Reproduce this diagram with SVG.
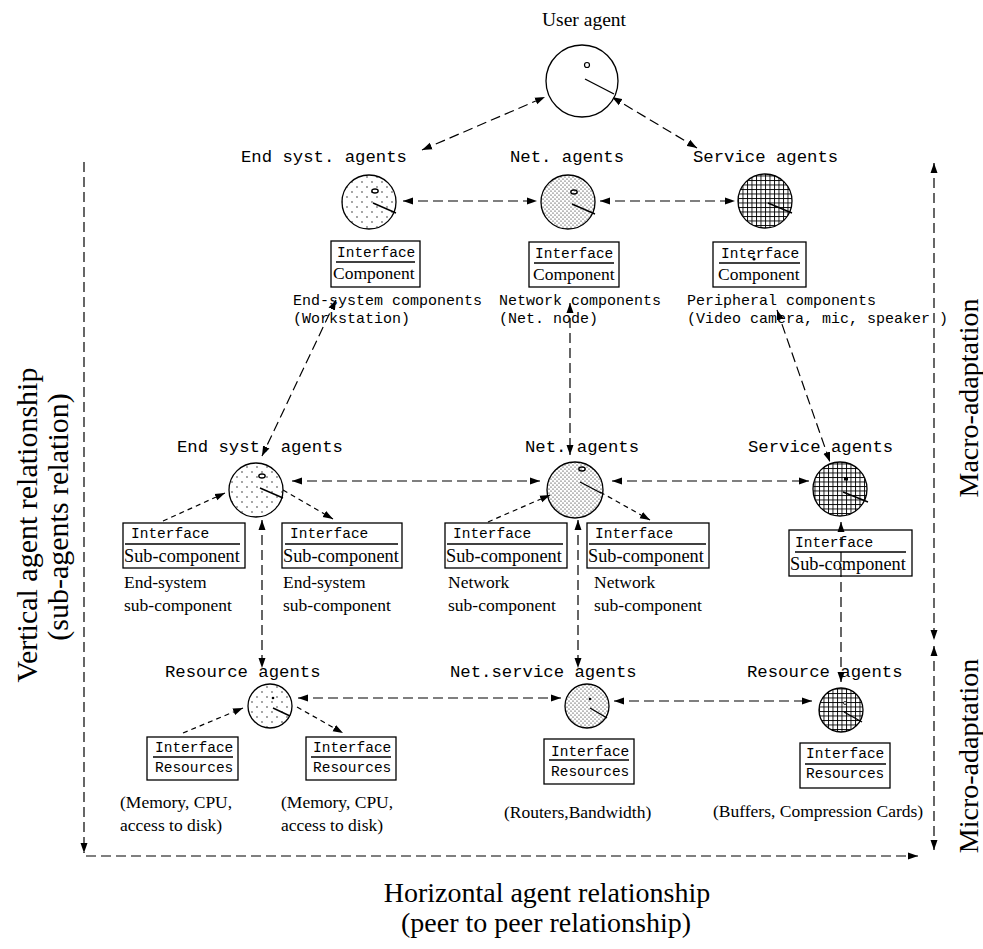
<svg xmlns="http://www.w3.org/2000/svg" width="983" height="949" viewBox="0 0 983 949">
<style>
.mono{font-family:'Liberation Mono','Courier New',monospace;fill:#000}
.ag{font-size:17.3px}
.if{font-size:14.5px}
.cd{font-size:15px}
.serif{font-family:'Liberation Serif','Times New Roman',serif;fill:#000}
.lb{font-size:17.5px}
.big{font-size:28px}
.circ{stroke:#000;stroke-width:1.3}
.box{fill:#fff;stroke:#000;stroke-width:1.3}
.ul{stroke:#000;stroke-width:1.5}
.rad{stroke:#000;stroke-width:1.4;fill:none}
.ld{fill:none;stroke:#000;stroke-width:1.2;stroke-dasharray:10,5;marker-start:url(#ah);marker-end:url(#ah)}
.ld1{fill:none;stroke:#000;stroke-width:1.2;stroke-dasharray:10,5;marker-end:url(#ah)}
.sd{fill:none;stroke:#000;stroke-width:1.2;stroke-dasharray:5,4;marker-end:url(#ah)}
</style>
<defs>
<marker id="ah" markerUnits="userSpaceOnUse" markerWidth="11" markerHeight="8" refX="10" refY="4" orient="auto-start-reverse">
<path d="M0,0.5 L10,4 L0,7.5 z" fill="#000"/>
</marker>
<pattern id="sparse" width="10" height="10" patternUnits="userSpaceOnUse"><circle cx="2" cy="2" r="0.65" fill="#000"/><circle cx="7" cy="7" r="0.65" fill="#000"/></pattern>
<pattern id="dense" width="4" height="4" patternUnits="userSpaceOnUse"><circle cx="1" cy="1" r="0.6" fill="#000"/><circle cx="3" cy="3" r="0.6" fill="#000"/></pattern>
<pattern id="grid" width="4.5" height="4.5" patternUnits="userSpaceOnUse"><path d="M0,0.5H4.5M0.5,0V4.5" stroke="#000" stroke-width="0.9"/></pattern>
</defs>
<rect width="983" height="949" fill="#fff"/>

<!-- Connectors -->
<g id="connectors">
<line class="ld" x1="422" y1="150" x2="545" y2="97"/>
<line class="ld" x1="697" y1="148" x2="612" y2="97"/>
<line class="ld" x1="403" y1="201" x2="537" y2="201"/>
<line class="ld" x1="600" y1="201" x2="735" y2="201"/>
<line class="ld" x1="336" y1="300" x2="262" y2="456"/>
<line class="ld" x1="570" y1="303" x2="570" y2="455"/>
<line class="ld" x1="777" y1="310" x2="830" y2="462"/>
<line class="ld" x1="292" y1="481" x2="540" y2="481"/>
<line class="ld" x1="612" y1="481" x2="809" y2="481"/>
<line class="sd" x1="163" y1="521" x2="225" y2="493"/>
<line class="sd" x1="283" y1="490" x2="333" y2="519"/>
<line class="sd" x1="488" y1="522" x2="550" y2="495"/>
<line class="sd" x1="600" y1="492" x2="650" y2="520"/>
<line class="ld" x1="262" y1="520" x2="262" y2="668"/>
<line class="ld" x1="578" y1="520" x2="578" y2="668"/>
<line class="ld" x1="298" y1="698" x2="561" y2="698"/>
<line class="ld" x1="614" y1="701" x2="812" y2="701"/>
<line class="sd" x1="183" y1="733" x2="243" y2="708"/>
<line class="sd" x1="297" y1="707" x2="343" y2="733"/>
<line class="ld1" x1="84" y1="162" x2="84" y2="853"/>
<line class="ld1" x1="86" y1="856" x2="918" y2="856"/>
<line class="ld" x1="934" y1="163" x2="934" y2="640"/>
<line class="ld" x1="934" y1="646" x2="934" y2="850"/>
</g>

<!-- User agent -->
<g id="user-agent">
<text class="serif" x="584" y="26" font-size="19.5" text-anchor="middle">User agent</text>
<circle class="circ" cx="582" cy="81" r="36" fill="#fff"/>
<circle cx="587" cy="65" r="2.5" fill="none" stroke="#000" stroke-width="1.2"/>
<line class="rad" x1="585" y1="79" x2="614" y2="94"/>
</g>

<!-- Top row -->
<g id="endsys-agent-top">
<text class="mono ag" x="241" y="162">End syst. agents</text>
<circle class="circ" cx="369" cy="202" r="27" fill="url(#sparse)"/>
<ellipse cx="375" cy="191" rx="3.2" ry="2" fill="none" stroke="#000" stroke-width="1.3"/>
<line class="rad" x1="373" y1="203" x2="396" y2="213"/>
</g>
<g id="net-agent-top">
<text class="mono ag" x="510" y="162">Net. agents</text>
<circle class="circ" cx="568" cy="202" r="27" fill="url(#dense)"/>
<ellipse cx="574" cy="192" rx="3.2" ry="2" fill="none" stroke="#000" stroke-width="1.3"/>
<line class="rad" x1="572" y1="204" x2="595" y2="214"/>
</g>
<g id="service-agent-top">
<text class="mono ag" x="693" y="162">Service agents</text>
<circle class="circ" cx="765" cy="201" r="27" fill="url(#grid)"/>
<line class="rad" x1="768" y1="203" x2="792" y2="213"/>
</g>

<g id="endsys-component-box">
<rect class="box" x="331" y="241" width="89" height="46"/>
<text class="mono if" x="337" y="257">Interface</text>
<line class="ul" x1="336" y1="262" x2="415" y2="262"/>
<text class="serif" font-size="17.5" x="333" y="279">Component</text>
</g>
<g id="net-component-box">
<rect class="box" x="529" y="242" width="90" height="45"/>
<text class="mono if" x="535" y="258">Interface</text>
<line class="ul" x1="534" y1="263" x2="614" y2="263"/>
<text class="serif" font-size="17.5" x="533" y="280">Component</text>
</g>
<g id="service-component-box">
<rect class="box" x="713" y="242" width="93" height="45"/>
<text class="mono if" x="721" y="258">Interface</text>
<line class="ul" x1="719" y1="263" x2="800" y2="263"/>
<circle cx="754" cy="259" r="1.6" fill="#000"/>
<text class="serif" font-size="17.5" x="718" y="280">Component</text>
</g>

<g id="top-descriptions">
<text class="mono cd" x="293" y="305">End-system components</text>
<text class="mono cd" x="293" y="323">(Workstation)</text>
<text class="mono cd" x="499" y="305">Network components</text>
<text class="mono cd" x="499" y="323">(Net. node)</text>
<text class="mono cd" x="687" y="305">Peripheral components</text>
<text class="mono cd" x="687" y="323">(Video camera, mic, speaker )</text>
</g>

<!-- Middle row -->
<g id="endsys-agent-mid">
<text class="mono ag" x="177" y="452">End syst. agents</text>
<circle class="circ" cx="256" cy="490" r="27" fill="url(#sparse)"/>
<ellipse cx="262" cy="476" rx="3.2" ry="2" fill="none" stroke="#000" stroke-width="1.3"/>
<line class="rad" x1="260" y1="488" x2="283" y2="498"/>
</g>
<g id="net-agent-mid">
<text class="mono ag" x="525" y="452">Net. agents</text>
<circle class="circ" cx="575" cy="490" r="28" fill="url(#dense)"/>
<ellipse cx="582" cy="469" rx="3.2" ry="2" fill="none" stroke="#000" stroke-width="1.3"/>
<line class="rad" x1="580" y1="482" x2="601" y2="493"/>
</g>
<g id="service-agent-mid">
<text class="mono ag" x="748" y="452">Service agents</text>
<circle class="circ" cx="840" cy="489" r="27" fill="url(#grid)"/>
<rect x="844" y="477" width="4" height="3.5" fill="#000"/>
<line class="rad" x1="843" y1="492" x2="868" y2="502"/>
</g>

<g id="endsys-sub-box-1">
<rect class="box" x="123" y="523" width="122" height="45"/>
<text class="mono if" x="131" y="538">Interface</text>
<line class="ul" x1="125" y1="544" x2="240" y2="544"/>
<text class="serif" font-size="18.3" x="124" y="562">Sub-component</text>
</g>
<g id="endsys-sub-box-2">
<rect class="box" x="282" y="523" width="120" height="45"/>
<text class="mono if" x="290" y="538">Interface</text>
<line class="ul" x1="285" y1="544" x2="398" y2="544"/>
<text class="serif" font-size="18.3" x="283" y="562">Sub-component</text>
</g>
<g id="net-sub-box-1">
<rect class="box" x="445" y="523" width="122" height="45"/>
<text class="mono if" x="453" y="538">Interface</text>
<line class="ul" x1="447" y1="544" x2="563" y2="544"/>
<text class="serif" font-size="18.3" x="446" y="562">Sub-component</text>
</g>
<g id="net-sub-box-2">
<rect class="box" x="587" y="523" width="122" height="45"/>
<text class="mono if" x="595" y="538">Interface</text>
<line class="ul" x1="589" y1="544" x2="706" y2="544"/>
<text class="serif" font-size="18.3" x="588" y="562">Sub-component</text>
</g>
<g id="service-sub-box">
<rect class="box" x="789" y="530" width="123" height="46"/>
<text class="mono if" x="795" y="547">Interface</text>
<line class="ul" x1="795" y1="552" x2="906" y2="552"/>
<text class="serif" font-size="18.3" x="790" y="570">Sub-component</text>
</g>
<g id="service-vertical">
<line class="ld" x1="841" y1="522" x2="841" y2="682"/>
</g>

<g id="mid-descriptions">
<text class="serif lb" x="124" y="588">End-system</text>
<text class="serif lb" x="124" y="611">sub-component</text>
<text class="serif lb" x="283" y="588">End-system</text>
<text class="serif lb" x="283" y="611">sub-component</text>
<text class="serif lb" x="448" y="588">Network</text>
<text class="serif lb" x="448" y="611">sub-component</text>
<text class="serif lb" x="594" y="588">Network</text>
<text class="serif lb" x="594" y="611">sub-component</text>
</g>

<!-- Bottom row -->
<g id="resource-agent-left">
<text class="mono ag" x="165" y="677">Resource agents</text>
<circle class="circ" cx="270" cy="706" r="22" fill="url(#sparse)"/>
<circle cx="273" cy="698" r="1.3" fill="#000"/>
<line class="rad" x1="273" y1="708" x2="290" y2="716"/>
</g>
<g id="netservice-agent">
<text class="mono ag" x="450" y="677">Net.service agents</text>
<circle class="circ" cx="587" cy="706" r="22" fill="url(#dense)"/>
<circle cx="590" cy="699" r="1.3" fill="#000"/>
<line class="rad" x1="590" y1="708" x2="607" y2="718"/>
</g>
<g id="resource-agent-right">
<text class="mono ag" x="747" y="677">Resource agents</text>
<circle class="circ" cx="841" cy="710" r="22" fill="url(#grid)"/>
<circle cx="845" cy="703" r="1.5" fill="#fff" stroke="#000" stroke-width="0.8"/>
<line class="rad" x1="844" y1="712" x2="862" y2="722"/>
</g>

<g id="res-box-1">
<rect class="box" x="147" y="737" width="91" height="43"/>
<text class="mono if" x="155" y="752">Interface</text>
<line class="ul" x1="153" y1="757" x2="233" y2="757"/>
<text class="mono if" x="155" y="772">Resources</text>
</g>
<g id="res-box-2">
<rect class="box" x="306" y="737" width="90" height="43"/>
<text class="mono if" x="313" y="752">Interface</text>
<line class="ul" x1="311" y1="757" x2="391" y2="757"/>
<text class="mono if" x="313" y="772">Resources</text>
</g>
<g id="res-box-3">
<rect class="box" x="544" y="739" width="90" height="45"/>
<text class="mono if" x="551" y="756">Interface</text>
<line class="ul" x1="549" y1="760" x2="629" y2="760"/>
<text class="mono if" x="551" y="776">Resources</text>
</g>
<g id="res-box-4">
<rect class="box" x="800" y="743" width="90" height="45"/>
<text class="mono if" x="806" y="758">Interface</text>
<line class="ul" x1="805" y1="764" x2="886" y2="764"/>
<text class="mono if" x="806" y="778">Resources</text>
</g>

<g id="bottom-descriptions">
<text class="serif lb" x="120" y="808">(Memory, CPU,</text>
<text class="serif lb" x="120" y="831">access to disk)</text>
<text class="serif lb" x="281" y="808">(Memory, CPU,</text>
<text class="serif lb" x="281" y="831">access to disk)</text>
<text class="serif lb" x="504" y="818">(Routers,Bandwidth)</text>
<text class="serif lb" x="713" y="817">(Buffers, Compression Cards)</text>
</g>

<!-- Axis labels -->
<g id="axis-labels">
<text class="serif" font-size="30" transform="translate(37,525) rotate(-90)" text-anchor="middle">Vertical agent relationship</text>
<text class="serif" font-size="30" transform="translate(68,517) rotate(-90)" text-anchor="middle">(sub-agents relation)</text>
<text class="serif big" transform="translate(978,398) rotate(-90)" text-anchor="middle">Macro-adaptation</text>
<text class="serif big" transform="translate(978,756) rotate(-90)" text-anchor="middle">Micro-adaptation</text>
<text class="serif big" x="547" y="902" text-anchor="middle">Horizontal agent relationship</text>
<text class="serif big" x="546" y="932" text-anchor="middle">(peer to peer relationship)</text>
</g>
</svg>
